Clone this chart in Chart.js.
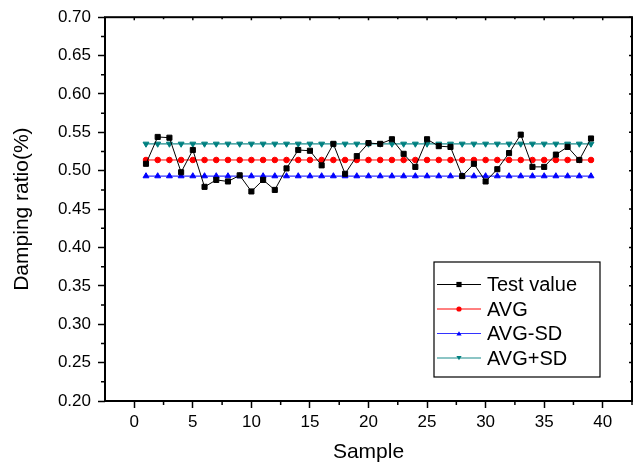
<!DOCTYPE html>
<html>
<head>
<meta charset="utf-8">
<script src="https://cdn.jsdelivr.net/npm/chart.js@4.4.0/dist/chart.umd.min.js"></script>
<style>
  body { margin: 0; background: #ffffff; }
  #wrap { width: 637px; height: 468px; }
</style>
</head>
<body>
<div id="wrap"><canvas id="myChart" width="637" height="468"></canvas></div>
<script>
// values
const samples = [1, 2, 3, 4, 5, 6, 7, 8, 9, 10, 11, 12, 13, 14, 15, 16, 17, 18, 19, 20,
                 21, 22, 23, 24, 25, 26, 27, 28, 29, 30, 31, 32, 33, 34, 35, 36, 37, 38, 39];

const testValue = [0.509, 0.544, 0.543, 0.498, 0.527, 0.479, 0.488, 0.486, 0.494, 0.473,
                   0.488, 0.475, 0.503, 0.527, 0.526, 0.507, 0.535, 0.496, 0.519, 0.536,
                   0.535, 0.541, 0.522, 0.505, 0.541, 0.532, 0.531, 0.493, 0.509, 0.486,
                   0.502, 0.523, 0.547, 0.505, 0.505, 0.521, 0.531, 0.514, 0.542];

const avgValue = [0.514, 0.514, 0.514, 0.514, 0.514, 0.514, 0.514, 0.514, 0.514, 0.514,
                  0.514, 0.514, 0.514, 0.514, 0.514, 0.514, 0.514, 0.514, 0.514, 0.514,
                  0.514, 0.514, 0.514, 0.514, 0.514, 0.514, 0.514, 0.514, 0.514, 0.514,
                  0.514, 0.514, 0.514, 0.514, 0.514, 0.514, 0.514, 0.514, 0.514];

const avgMinusSd = [0.493, 0.493, 0.493, 0.493, 0.493, 0.493, 0.493, 0.493, 0.493, 0.493,
                    0.493, 0.493, 0.493, 0.493, 0.493, 0.493, 0.493, 0.493, 0.493, 0.493,
                    0.493, 0.493, 0.493, 0.493, 0.493, 0.493, 0.493, 0.493, 0.493, 0.493,
                    0.493, 0.493, 0.493, 0.493, 0.493, 0.493, 0.493, 0.493, 0.493];

const avgPlusSd = [0.535, 0.535, 0.535, 0.535, 0.535, 0.535, 0.535, 0.535, 0.535, 0.535,
                   0.535, 0.535, 0.535, 0.535, 0.535, 0.535, 0.535, 0.535, 0.535, 0.535,
                   0.535, 0.535, 0.535, 0.535, 0.535, 0.535, 0.535, 0.535, 0.535, 0.535,
                   0.535, 0.535, 0.535, 0.535, 0.535, 0.535, 0.535, 0.535, 0.535];

const xTicks = [0, 5, 10, 15, 20, 25, 30, 35, 40];
const yTicks = [0.20, 0.25, 0.30, 0.35, 0.40, 0.45, 0.50, 0.55, 0.60, 0.65, 0.70];

const seriesNames = ["Test value", "AVG", "AVG-SD", "AVG+SD"];

const fontFamily = "'Liberation Sans', Arial, sans-serif";

function toPoints(values) {
    return samples.map((s, i) => ({ x: s, y: values[i] }));
}

// frame round the plot, minor ticks, tiny inner ticks on top/right
const framePlugin = {
    id: 'frame',
    afterDraw(chart) {
        const ctx = chart.ctx;
        const a = chart.chartArea;
        const xs = chart.scales.x;
        const ys = chart.scales.y;
        ctx.save();
        ctx.strokeStyle = '#000';

        ctx.lineWidth = 1.5;
        ctx.beginPath();
        for (let i = 0; i < yTicks.length - 1; i++) {
            const y = ys.getPixelForValue((yTicks[i] + yTicks[i + 1]) / 2);
            ctx.moveTo(a.left - 4, y); ctx.lineTo(a.left, y);
            ctx.moveTo(a.right, y); ctx.lineTo(a.right - 2, y);
        }
        for (let i = 0; i < yTicks.length; i++) {
            const y = ys.getPixelForValue(yTicks[i]);
            ctx.moveTo(a.right, y); ctx.lineTo(a.right - 3, y);
        }
        const step = xTicks[1] - xTicks[0];
        for (let i = 0; i < xTicks.length; i++) {
            const x = xs.getPixelForValue(xTicks[i] + step / 2);
            ctx.moveTo(x, a.bottom); ctx.lineTo(x, a.bottom + 4);
            ctx.moveTo(x, a.top); ctx.lineTo(x, a.top + 2);
            const xm = xs.getPixelForValue(xTicks[i]);
            ctx.moveTo(xm, a.top); ctx.lineTo(xm, a.top + 3);
        }
        ctx.stroke();

        ctx.lineWidth = 2;
        ctx.strokeRect(a.left, a.top, a.right - a.left, a.bottom - a.top);
        ctx.restore();
    }
};

function drawMarker(ctx, style, x, y, r, color, rotation) {
    ctx.save();
    ctx.fillStyle = color;
    ctx.beginPath();
    if (style === 'rect') {
        ctx.rect(x - r, y - r, 2 * r, 2 * r);
    } else if (style === 'circle') {
        ctx.arc(x, y, r, 0, Math.PI * 2);
    } else {
        const d = rotation ? -1 : 1;
        ctx.moveTo(x - r, y + d * r * 0.8);
        ctx.lineTo(x + r, y + d * r * 0.8);
        ctx.lineTo(x, y - d * r * 0.9);
        ctx.closePath();
    }
    ctx.fill();
    ctx.restore();
}

// legend box inside the plot, lower right
const legendPlugin = {
    id: 'insideLegend',
    afterDraw(chart) {
        const ctx = chart.ctx;
        const a = chart.chartArea;
        const left = a.right - 198, top = a.bottom - 139, w = 166, h = 115;
        ctx.save();
        ctx.fillStyle = '#fff';
        ctx.fillRect(left, top, w, h);
        ctx.strokeStyle = '#000';
        ctx.lineWidth = 1.2;
        ctx.strokeRect(left, top, w, h);
        ctx.font = '20px ' + fontFamily;
        ctx.textBaseline = 'middle';
        chart.data.datasets.forEach((ds, i) => {
            const y = top + 22.5 + i * 24.5;
            ctx.strokeStyle = ds.borderColor;
            ctx.lineWidth = ds.borderWidth;
            ctx.beginPath();
            ctx.moveTo(left + 3, y);
            ctx.lineTo(left + 47, y);
            ctx.stroke();
            drawMarker(ctx, ds.pointStyle, left + 25, y, 2.6, ds.pointBackgroundColor, ds.pointRotation);
            ctx.fillStyle = '#000';
            ctx.fillText(ds.label, left + 53, y + 1);
        });
        ctx.restore();
    }
};

const ctx = document.getElementById('myChart');
Chart.defaults.font.family = fontFamily;
Chart.defaults.color = '#000';

const myChart = new Chart(ctx, {
    type: 'line',
    data: {
        datasets: [
            {
                label: seriesNames[0],
                data: toPoints(testValue),
                borderColor: '#000000',
                borderWidth: 1,
                pointStyle: 'rect',
                pointRadius: 3.6,
                pointBorderWidth: 1,
                pointBorderColor: '#000000',
                pointBackgroundColor: '#000000',
            },
            {
                label: seriesNames[1],
                data: toPoints(avgValue),
                borderColor: '#ff0000',
                borderWidth: 1,
                pointStyle: 'circle',
                pointRadius: 2.8,
                pointBorderWidth: 1,
                pointBorderColor: '#ff0000',
                pointBackgroundColor: '#ff0000',
            },
            {
                label: seriesNames[2],
                data: toPoints(avgMinusSd),
                borderColor: '#3333ff',
                borderWidth: 1.2,
                pointStyle: 'triangle',
                pointRadius: 3.4,
                pointBorderWidth: 1,
                pointBorderColor: '#0000ff',
                pointBackgroundColor: '#0000ff',
            },
            {
                label: seriesNames[3],
                data: toPoints(avgPlusSd),
                borderColor: '#1a8c8c',
                borderWidth: 1.2,
                pointStyle: 'triangle',
                pointRotation: 180,
                pointRadius: 3.4,
                pointBorderWidth: 1,
                pointBorderColor: '#008080',
                pointBackgroundColor: '#008080',
            },
        ]
    },
    options: {
        responsive: false,
        animation: false,
        layout: { padding: { top: 15, right: 4, left: 0, bottom: 0 } },
        scales: {
            x: {
                type: 'linear',
                min: -2.5,
                max: 42.5,
                afterFit: (s) => { s.height = 67; },
                afterBuildTicks: (s) => { s.ticks = xTicks.map(v => ({ value: v })); },
                border: { display: false },
                grid: { drawOnChartArea: false, tickLength: 7, tickWidth: 1.5, tickColor: '#000' },
                ticks: { font: { size: 17 }, padding: 4, maxRotation: 0, color: '#000' },
                title: { display: true, text: 'Sample', font: { size: 21 }, padding: { top: 0, bottom: 3 }, color: '#000' }
            },
            y: {
                min: 0.2,
                max: 0.7,
                afterFit: (s) => { s.width = 105; },
                afterBuildTicks: (s) => { s.ticks = yTicks.map(v => ({ value: v })); },
                border: { display: false },
                grid: { drawOnChartArea: false, tickLength: 7, tickWidth: 1.5, tickColor: '#000' },
                ticks: { font: { size: 17 }, padding: 7, color: '#000', callback: (v) => v.toFixed(2) },
                title: { display: true, text: 'Damping ratio(%)', font: { size: 21 }, padding: { top: 10, bottom: 0 }, color: '#000' }
            }
        },
        plugins: {
            legend: { display: false },
            tooltip: { enabled: false }
        }
    },
    plugins: [framePlugin, legendPlugin]
});
</script>
</body>
</html>
